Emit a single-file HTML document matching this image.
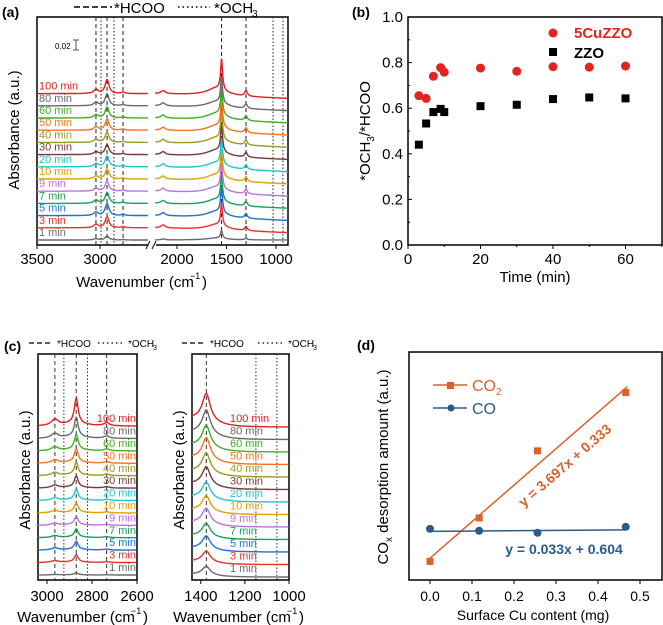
<!DOCTYPE html>
<html><head><meta charset="utf-8"><style>
body{margin:0;background:#fff}
svg{display:block;font-family:"Liberation Sans",sans-serif}
</style></head><body>
<svg id="fig" width="663" height="625" viewBox="0 0 663 625" xmlns="http://www.w3.org/2000/svg"></svg>
<script>
// ---------- data ----------
const times = ["1 min","3 min","5 min","7 min","9 min","10 min","20 min","30 min","40 min","50 min","60 min","80 min","100 min"];
const traceColors = ["#6a6a6a","#e8302c","#1f6fd6","#1aa05a","#c070e0","#e0a000","#1ec8d0","#7a3a3a","#9a9a20","#ff7020","#40b020","#6a6a6a","#e02020"];
const aPeakFormate = [8,22,26,26,26,27,26,27,28,28,28,26,31];
const aPeakCH = [4,11,12,11,10,10,11,10,10,11,11,12,14];
const cLeftPeak = [2,7,8,8,8,9,10,11,12,13,15,19,25];
const cRightPeak = [8,10,12,12,14,14,15,17,18,20,20,22,25];
const bTime = [3,5,7,9,10,20,30,40,50,60];
const bCu = [0.655,0.643,0.74,0.778,0.758,0.776,0.762,0.782,0.78,0.785];
const bZZO = [0.44,0.533,0.583,0.597,0.583,0.609,0.615,0.64,0.647,0.643];
const bYTicks = [0,0.2,0.4,0.6,0.8,1.0];
const bXTicks = [0,20,40,60];
const dCu = [0,0.117,0.256,0.466];
const dCO2 = [0.30,0.74,1.42,2.01];
const dCO = [0.63,0.61,0.59,0.65];
const dXTicks = [0,0.1,0.2,0.3,0.4,0.5];

const NS="http://www.w3.org/2000/svg";
const svg=document.getElementById('fig');
function el(tag,attrs,parent){const e=document.createElementNS(NS,tag);for(const k in attrs)e.setAttribute(k,attrs[k]);(parent||svg).appendChild(e);return e;}
function txt(s,x,y,size,attrs,parent){const t=el('text',Object.assign({x:x,y:y,'font-size':size},attrs||{}),parent);t.textContent=s;return t;}
function lor(w,w0,g){const d=(w-w0)/g;return 1/(1+d*d);}

// ---------- panel a ----------
const ga=el('g',{});


const xaL=w=>37+(3500-w)*0.126;
const xaR=w=>177+(2000-w)*0.099;
txt("(a)",2,17,14,{'font-weight':'bold'},ga);
el('rect',{x:37,y:17,width:251,height:228,fill:'none',stroke:'#000','stroke-width':1.5},ga);
el('rect',{x:148,y:240,width:8,height:10,fill:'#fff'},ga);
el('line',{x1:146,y1:249,x2:150,y2:241,stroke:'#000'},ga);
el('line',{x1:152,y1:249,x2:156,y2:241,stroke:'#000'},ga);
[[3032,'4,3'],[2992,'1.5,2'],[2944,'4,3'],[2889,'1.5,2'],[2817,'4,3']].forEach(v=>el('line',{x1:xaL(v[0]),y1:17,x2:xaL(v[0]),y2:245,stroke:'#222','stroke-dasharray':v[1]},ga));
[[1550,'4,3'],[1303,'4,3'],[1030,'1.5,2'],[930,'1.5,2']].forEach(v=>el('line',{x1:xaR(v[0]),y1:17,x2:xaR(v[0]),y2:245,stroke:'#222','stroke-dasharray':v[1]},ga));
times.forEach((t,i)=>{
  const b=240-i*12.2;
  let d='';
  for(let w=3500;w>=2620;w-=5){const y=b-aPeakCH[i]*lor(w,2944,18)-aPeakCH[i]*0.3*lor(w,3032,20)-aPeakCH[i]*0.1*lor(w,2817,15);d+=(d?'L':'M')+xaL(w).toFixed(1)+','+y.toFixed(1);}
  const p=el('path',{d:d,fill:'none',stroke:traceColors[i],'stroke-width':1.4},ga);
  
  
  let d2='';
  for(let w=2220;w>=880;w-=4){const s=(w-880)/1340;const y=b+ (i>0? (1-s)*5:0)-aPeakFormate[i]*lor(w,1550,12)-aPeakFormate[i]*0.25*lor(w,1600,120)-aPeakFormate[i]*0.18*lor(w,1303,15)-3*lor(w,2140,25)*(i>0?1:0.3);d2+=(d2?'L':'M')+xaR(w).toFixed(1)+','+y.toFixed(1);}
  const p2=el('path',{d:d2,fill:'none',stroke:traceColors[i],'stroke-width':1.4},ga);
  
  
  const l=txt(t,39,b-4,11,{fill:traceColors[i]},ga);
  
  
});
el('line',{x1:76,y1:40,x2:76,y2:50,stroke:'#555'},ga);el('line',{x1:73,y1:40,x2:79,y2:40,stroke:'#555'},ga);el('line',{x1:73,y1:50,x2:79,y2:50,stroke:'#555'},ga);
txt("0.02",55,49,8,{},ga);
el('line',{x1:74,y1:7,x2:112,y2:7,stroke:'#000','stroke-dasharray':'6,3','stroke-width':1.5},ga);
txt("*HCOO",114,13,15,{},ga);
el('line',{x1:178,y1:7,x2:210,y2:7,stroke:'#000','stroke-dasharray':'1.5,3','stroke-width':1.5},ga);
txt("*OCH",214,13,15,{},ga);txt("3",252,17,10,{},ga);
[[3500,xaL],[3000,xaL],[2000,xaR],[1500,xaR],[1000,xaR]].forEach(v=>{const x=v[1](v[0]);el('line',{x1:x,y1:245,x2:x,y2:249,stroke:'#000'},ga);txt(String(v[0]),x,264,15,{'text-anchor':'middle'},ga);});
txt("Wavenumber (cm",135,287,15,{'text-anchor':'middle'},ga);txt("−1",190,279,9,{},ga);txt(")",202,287,15,{},ga);
txt("Absorbance (a.u.)",0,0,15,{'text-anchor':'middle',transform:'translate(19,130) rotate(-90)'},ga);

// ---------- panel b ----------
const gb=el('g',{});


const xb=v=>408+v*3.625, yb=v=>245-v*228;
txt("(b)",352,17,14,{'font-weight':'bold'},gb);
el('rect',{x:408,y:17,width:254,height:228,fill:'none',stroke:'#000','stroke-width':1.5},gb);
bYTicks.forEach(v=>{el('line',{x1:408,y1:yb(v),x2:412,y2:yb(v),stroke:'#000'},gb);txt(v.toFixed(1),403,yb(v)+5,15,{'text-anchor':'end'},gb);});
bYTicks.slice(0,5).forEach(v=>el('line',{x1:408,y1:yb(v+0.1),x2:410,y2:yb(v+0.1),stroke:'#000'},gb));
bXTicks.forEach(v=>{el('line',{x1:xb(v),y1:245,x2:xb(v),y2:249,stroke:'#000'},gb);txt(String(v),xb(v),264,15,{'text-anchor':'middle'},gb);});
[10,30,50,70].forEach(v=>el('line',{x1:xb(v),y1:245,x2:xb(v),y2:247,stroke:'#000'},gb));
bTime.forEach((t,i)=>{
  const c=el('circle',{cx:xb(t),cy:yb(bCu[i]),r:4.5,fill:'#e4231f'},gb);
  
  
  const s=el('rect',{x:xb(t)-4,y:yb(bZZO[i])-4,width:8,height:8,fill:'#000'},gb);
  
  
});
el('circle',{cx:553,cy:33,r:4.5,fill:'#e4231f'},gb);txt("5CuZZO",574,38,15,{fill:'#e4231f','font-weight':'bold'},gb);
el('rect',{x:549,y:48,width:8,height:8,fill:'#000'},gb);txt("ZZO",574,58,15,{'font-weight':'bold'},gb);
txt("Time (min)",535,282,15,{'text-anchor':'middle'},gb);
const yl=el('text',{'font-size':15,'text-anchor':'middle',transform:'translate(370,131) rotate(-90)'},gb);
yl.innerHTML='*OCH<tspan font-size="10" dy="4">3</tspan><tspan dy="-4">/*HCOO</tspan>';

// ---------- panel c ----------
const gc=el('g',{});


const xcL=w=>38+(3040-w)*(99/440), xcR=w=>192+(1440-w)*(97/440);
txt("(c)",4,351,14,{'font-weight':'bold'},gc);
el('rect',{x:38,y:354,width:99,height:226,fill:'none',stroke:'#000','stroke-width':1.5},gc);
el('rect',{x:192,y:354,width:97,height:226,fill:'none',stroke:'#000','stroke-width':1.5},gc);
[[2965,'4,3'],[2925,'1.5,2'],[2870,'4,3'],[2820,'1.5,2'],[2735,'4,3']].forEach(v=>el('line',{x1:xcL(v[0]),y1:354,x2:xcL(v[0]),y2:580,stroke:'#333','stroke-dasharray':v[1]},gc));
[[1375,'4,3'],[1150,'1.5,2'],[1055,'1.5,2']].forEach(v=>el('line',{x1:xcR(v[0]),y1:354,x2:xcR(v[0]),y2:580,stroke:'#333','stroke-dasharray':v[1]},gc));
times.forEach((t,i)=>{
  const b=575-i*12.4;
  let d='';
  for(let w=3040;w>=2600;w-=3){const a=cLeftPeak[i];const y=b-a*lor(w,2870,10)-a*0.25*lor(w,2965,18)-a*0.12*lor(w,2735,15)-a*0.12*lor(w,2880,60);d+=(d?'L':'M')+xcL(w).toFixed(1)+','+y.toFixed(1);}
  const p=el('path',{d:d,fill:'none',stroke:traceColors[i],'stroke-width':1.4},gc);
  
  
  const l=txt(t,136,b-4,11,{fill:traceColors[i],'text-anchor':'end'},gc);
  
  
  const br=577-i*12.5;
  let d2='';
  for(let w=1440;w>=1000;w-=3){const a=cRightPeak[i];const y=br-a*lor(w,1375,22)-a*0.35*(w>1375?1:Math.exp(-(1375-w)/60));d2+=(d2?'L':'M')+xcR(w).toFixed(1)+','+y.toFixed(1);}
  const p2=el('path',{d:d2,fill:'none',stroke:traceColors[i],'stroke-width':1.4},gc);
  
  
  const l2=txt(t,230,br-5,11,{fill:traceColors[i]},gc);
  
  
});
[[29,50,'*HCOO',57],[182,203,'*HCOO',210]].forEach(v=>{el('line',{x1:v[0],y1:343,x2:v[1],y2:343,stroke:'#000','stroke-dasharray':'5,3','stroke-width':1.3},gc);txt(v[2],v[3],347,10,{},gc);});
[[98,122,128],[258,283,288]].forEach(v=>{el('line',{x1:v[0],y1:343,x2:v[1],y2:343,stroke:'#000','stroke-dasharray':'1.5,3','stroke-width':1.3},gc);txt("*OCH",v[2],347,10,{},gc);txt("3",v[2]+25,350,7,{},gc);});
[3000,2800,2600].forEach(v=>{el('line',{x1:xcL(v),y1:580,x2:xcL(v),y2:584,stroke:'#000'},gc);txt(String(v),xcL(v),601,15,{'text-anchor':'middle'},gc);});
[1400,1200,1000].forEach(v=>{el('line',{x1:xcR(v),y1:580,x2:xcR(v),y2:584,stroke:'#000'},gc);txt(String(v),xcR(v),601,15,{'text-anchor':'middle'},gc);});
[[76],[232]].forEach(v=>{txt("Wavenumber (cm",v[0],622,15,{'text-anchor':'middle'},gc);txt("−1",v[0]+55,614,9,{},gc);txt(")",v[0]+67,622,15,{},gc);});
txt("Absorbance (a.u.)",0,0,15,{'text-anchor':'middle',transform:'translate(30,470) rotate(-90)'},gc);
txt("Absorbance (a.u.)",0,0,15,{'text-anchor':'middle',transform:'translate(184,470) rotate(-90)'},gc);

// ---------- panel d ----------
const gd=el('g',{});


const xd=v=>430+v*420, yd=v=>591-v*98.7;
txt("(d)",357,350,14,{'font-weight':'bold'},gd);
el('rect',{x:409,y:352,width:253,height:228,fill:'none',stroke:'#000','stroke-width':1.5},gd);
dXTicks.forEach(v=>{el('line',{x1:xd(v),y1:580,x2:xd(v),y2:584,stroke:'#000'},gd);txt(v.toFixed(1),xd(v),601,14,{'text-anchor':'middle'},gd);});
const co2c='#d9622b', coc='#2a5c8a';
el('line',{x1:xd(0),y1:yd(0.333),x2:xd(0.47),y2:yd(3.697*0.47+0.333),stroke:co2c,'stroke-width':1.5},gd);
el('line',{x1:xd(0),y1:yd(0.604),x2:xd(0.466),y2:yd(0.604+0.033*0.466),stroke:coc,'stroke-width':1.5},gd);
dCu.forEach((x,i)=>{
  const s=el('rect',{x:xd(x)-3.5,y:yd(dCO2[i])-3.5,width:7,height:7,fill:co2c},gd);
  
  
  const c=el('circle',{cx:xd(x),cy:yd(dCO[i]),r:4,fill:coc},gd);
  
  
});
el('line',{x1:433,y1:385,x2:467,y2:385,stroke:co2c,'stroke-width':1.5},gd);el('rect',{x:447,y:382,width:7,height:7,fill:co2c},gd);
const t1=el('text',{x:472,y:391,'font-size':16,fill:co2c},gd);t1.innerHTML='CO<tspan font-size="10" dy="4">2</tspan>';
el('line',{x1:433,y1:408,x2:467,y2:408,stroke:coc,'stroke-width':1.5},gd);el('circle',{cx:451,cy:408,r:3.5,fill:coc},gd);
txt("CO",472,414,16,{fill:coc},gd);
txt("y = 3.697x + 0.333",0,0,14,{fill:co2c,'font-weight':'bold','text-anchor':'middle',transform:'translate(568,469) rotate(-41)'},gd);
txt("y = 0.033x + 0.604",564,554,14,{fill:coc,'font-weight':'bold','text-anchor':'middle'},gd);
txt("Surface Cu content (mg)",533,620,14,{'text-anchor':'middle'},gd);
const yl2=el('text',{'font-size':15,'text-anchor':'middle',transform:'translate(388,467) rotate(-90)'},gd);
yl2.innerHTML='CO<tspan font-size="10" dy="4">x</tspan><tspan dy="-4"> desorption amount (a.u.)</tspan>';
</script>
</body></html>
